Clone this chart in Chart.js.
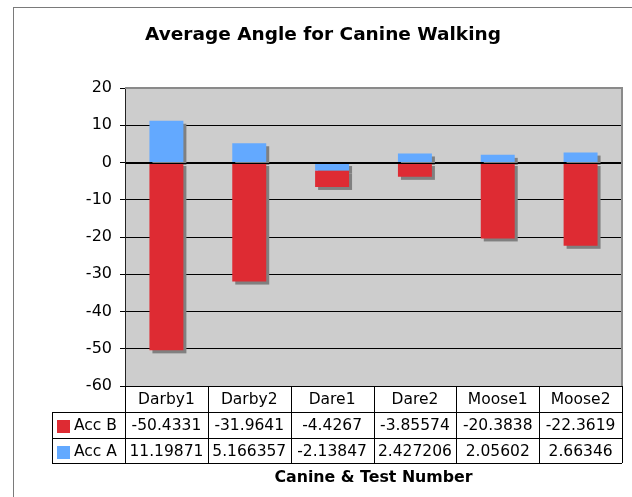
<!DOCTYPE html>
<html>
<head>
<meta charset="utf-8">
<title>Average Angle for Canine Walking</title>
<script src="https://cdn.jsdelivr.net/npm/chart.js@4.4.1/dist/chart.umd.min.js"></script>
<style>
    html, body { margin: 0; padding: 0; background: #fff; }
    canvas { display: block; }
</style>
</head>
<body>
<canvas id="chartAngulo" width="632" height="497"></canvas>
<script>
/* ============================================================
   1. DATA
   ============================================================ */

const categories = ["Darby1", "Darby2", "Dare1", "Dare2", "Moose1", "Moose2"];
const accB = [-50.4331, -31.9641, -4.4267, -3.85574, -20.3838, -22.3619];
const accA = [11.19871, 5.166357, -2.13847, 2.427206, 2.05602, 2.66346];
const yTicks = [20, 10, 0, -10, -20, -30, -40, -50, -60];

const TITLE = "Average Angle for Canine Walking";
const X_TITLE = "Canine & Test Number";

const RED = "#de2b33";
const BLUE = "#63a9ff";
const FONT = "'DejaVu Sans', Verdana, sans-serif";

/* ============================================================
   2. Helpers
   ============================================================ */

function hLine(ctx, x1, x2, y) {
    ctx.beginPath();
    ctx.moveTo(x1, Math.round(y) + 0.5);
    ctx.lineTo(x2, Math.round(y) + 0.5);
    ctx.stroke();
}
function vLine(ctx, x, y1, y2) {
    ctx.beginPath();
    ctx.moveTo(Math.round(x) + 0.5, y1);
    ctx.lineTo(Math.round(x) + 0.5, y2);
    ctx.stroke();
}

/* ============================================================
   3. Plugin: fondo, sombras, linea cero, tabla
   ============================================================ */

const excelLook = {
    id: "excelLook",
    beforeDraw(chart) {
        const { ctx, chartArea: a } = chart;
        ctx.save();
        // marco exterior
        ctx.strokeStyle = "#7a7a7a";
        ctx.lineWidth = 1;
        ctx.strokeRect(13.5, 7.5, 700, 600);
        // area gris
        ctx.fillStyle = "#cdcdcd";
        ctx.fillRect(a.left, a.top, a.right - a.left, a.bottom - a.top);
        // titulo
        ctx.fillStyle = "#000";
        ctx.font = "bold 18.5px " + FONT;
        ctx.textAlign = "center";
        ctx.textBaseline = "middle";
        ctx.fillText(TITLE, 323, 35);
        ctx.restore();
    },
    beforeDatasetsDraw(chart) {
        const { ctx } = chart;
        ctx.save();
        ctx.fillStyle = "#808080";
        chart.data.datasets.forEach((ds, i) => {
            chart.getDatasetMeta(i).data.forEach(el => {
                const p = el.getProps(["x", "y", "base", "width"], true);
                const top = Math.min(p.y, p.base);
                ctx.fillRect(p.x - p.width / 2 + 3, top + 3, p.width, Math.abs(p.base - p.y));
            });
        });
        ctx.restore();
    },
    afterDatasetsDraw(chart) {
        const { ctx, chartArea: a, scales } = chart;
        ctx.save();
        ctx.strokeStyle = "#000";
        ctx.lineWidth = 1;
        hLine(ctx, a.left, a.right, scales.y.getPixelForValue(0));
        // borde superior y derecho del area
        ctx.strokeStyle = "#8a8a8a";
        ctx.lineWidth = 2;
        ctx.beginPath();
        ctx.moveTo(a.left, a.top);
        ctx.lineTo(a.right, a.top);
        ctx.lineTo(a.right, a.bottom);
        ctx.stroke();
        ctx.restore();
    },
    afterDraw(chart) {
        const { ctx, chartArea: a, scales } = chart;
        const x = scales.x;
        const colW = (a.right - a.left) / categories.length;
        const rowH = [a.bottom, a.bottom + 26, a.bottom + 52, a.bottom + 77];
        const legLeft = 52;

        ctx.save();
        ctx.strokeStyle = "#000";
        ctx.lineWidth = 1;

        hLine(ctx, a.left, a.right, rowH[0]);
        hLine(ctx, legLeft, a.right, rowH[1]);
        hLine(ctx, legLeft, a.right, rowH[2]);
        hLine(ctx, legLeft, a.right, rowH[3]);
        vLine(ctx, legLeft, rowH[1], rowH[3]);
        for (let i = 0; i <= categories.length; i++) {
            vLine(ctx, a.left + i * colW, rowH[0], rowH[3]);
        }

        ctx.fillStyle = "#000";
        ctx.font = "15.5px " + FONT;
        ctx.textAlign = "center";
        ctx.textBaseline = "middle";
        categories.forEach((c, i) => {
            const cx = x.getPixelForValue(i);
            ctx.fillText(c, cx, (rowH[0] + rowH[1]) / 2 + 1);
            ctx.fillText(String(accB[i]), cx, (rowH[1] + rowH[2]) / 2 + 1);
            ctx.fillText(String(accA[i]), cx, (rowH[2] + rowH[3]) / 2 + 1);
        });

        // leyenda dentro de la tabla
        const filas = [["Acc B", RED, rowH[1]], ["Acc A", BLUE, rowH[2]]];
        filas.forEach(([label, color, top]) => {
            ctx.fillStyle = color;
            ctx.fillRect(57, top + 8, 13, 13);
            ctx.fillStyle = "#000";
            ctx.textAlign = "left";
            ctx.fillText(label, 74, top + 14);
        });

        // titulo eje x
        ctx.font = "bold 15.8px " + FONT;
        ctx.textAlign = "center";
        ctx.fillText(X_TITLE, (a.left + a.right) / 2, 478);
        ctx.restore();
    }
};

/* ============================================================
   4. CHART
   ============================================================ */

new Chart(document.getElementById("chartAngulo"), {
    type: "bar",
    data: {
        labels: categories,
        datasets: [
            { label: "Acc A", data: accA, backgroundColor: BLUE },
            { label: "Acc B", data: accB, backgroundColor: RED }
        ]
    },
    options: {
        responsive: false,
        animation: false,
        layout: { padding: { left: 20, right: 10, top: 88, bottom: 111 } },
        plugins: {
            legend: { display: false },
            title: { display: false },
            tooltip: { enabled: false }
        },
        datasets: {
            bar: { barPercentage: 0.41, categoryPercentage: 1 }
        },
        scales: {
            x: {
                stacked: true,
                display: false
            },
            y: {
                stacked: true,
                min: -60,
                max: 20,
                afterFit: s => { s.width = 105; },
                afterBuildTicks: s => { s.ticks = yTicks.map(v => ({ value: v })); },
                ticks: {
                    color: "#000",
                    font: { family: FONT, size: 16 },
                    padding: 8
                },
                grid: {
                    color: c => (c.tick && c.tick.value === 20 ? "rgba(0,0,0,0)" : "#000"),
                    tickColor: "#000",
                    tickLength: 5,
                    lineWidth: 1
                },
                border: { color: "#222", width: 1 }
            }
        }
    },
    plugins: [excelLook]
});
</script>
</body>
</html>
